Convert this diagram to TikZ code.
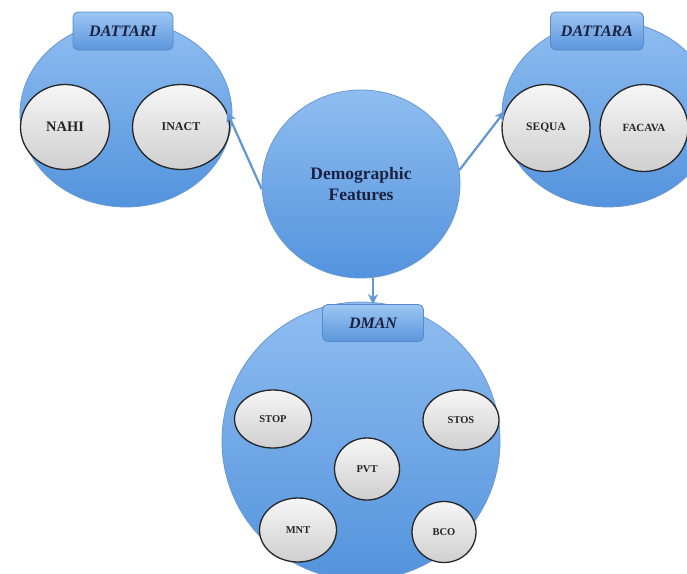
\documentclass[tikz,border=0pt]{standalone}
\usepackage{fontspec}
\setmainfont{Liberation Serif}
\usetikzlibrary{shapes.geometric,arrows.meta}
\definecolor{bigtop}{HTML}{8FBDF0}
\definecolor{bigbot}{HTML}{5393DD}
\definecolor{bigedge}{HTML}{6898D4}
\definecolor{labtop}{HTML}{9CC6F3}
\definecolor{labbot}{HTML}{5B96DC}
\definecolor{labedge}{HTML}{5A8ACB}
\definecolor{navy}{HTML}{1B2140}
\definecolor{arrowc}{HTML}{6396D6}
\definecolor{ovtop}{HTML}{F6F6F6}
\definecolor{ovbot}{HTML}{CFCFCF}
\tikzset{
  bigcirc/.style={ellipse, draw=bigedge, line width=0.8pt, top color=bigtop, bottom color=bigbot, inner sep=0pt},
  labbox/.style={rectangle, rounded corners=5pt, draw=labedge, line width=0.8pt, top color=labtop, bottom color=labbot, inner sep=0pt, minimum height=38pt, text=navy, font=\fontsize{16}{18}\selectfont\bfseries\itshape},
  oval/.style={ellipse, draw=black!85, line width=1.3pt, top color=ovtop, bottom color=ovbot, inner sep=0pt, text=black!85, font=\fontsize{10.5}{12}\selectfont\bfseries},
  conn/.style={draw=arrowc, line width=2.2pt, -{Stealth[length=10pt,width=10pt]}}
}
\begin{document}
\begin{tikzpicture}[x=1pt,y=-1pt]
\useasboundingbox (0,0) rectangle (687,573);
\clip (0,0) rectangle (687,573);
\fill[white] (0,0) rectangle (687,573);
% big circles
\node[bigcirc, minimum width=212pt, minimum height=186pt] (left) at (126,114) {};
\node[bigcirc, minimum width=212pt, minimum height=186pt] (right) at (608,114) {};
\node[bigcirc, minimum width=198pt, minimum height=188pt, text=navy, align=center, font=\fontsize{17.5}{21}\selectfont\bfseries] (cen) at (361,184) {Demographic\\Features};
\node[bigcirc, minimum width=278pt, minimum height=278pt] (bot) at (361,441) {};
% labels
\node[labbox, minimum width=100pt] (dattari) at (123,31) {DATTARI};
\node[labbox, minimum width=93pt] (dattara) at (597,31) {DATTARA};
\node[labbox, minimum width=101pt, minimum height=37pt] (dman) at (373,323) {DMAN};
% inner ovals
\node[oval, minimum width=89pt, minimum height=85pt, font=\fontsize{14.5}{16}\selectfont\bfseries] (nahi) at (65,127) {NAHI};
\node[oval, minimum width=97pt, minimum height=85pt, font=\fontsize{12}{13}\selectfont\bfseries] (inact) at (181,127) {INACT};
\node[oval, minimum width=88pt, minimum height=87pt, font=\fontsize{11.5}{13}\selectfont\bfseries] (sequa) at (546,128) {SEQUA};
\node[oval, minimum width=88pt, minimum height=87pt, font=\fontsize{11}{13}\selectfont\bfseries] (facava) at (644,128) {FACAVA};
\node[oval, minimum width=77pt, minimum height=58pt] (stop) at (273,419) {STOP};
\node[oval, minimum width=76pt, minimum height=60pt] (stos) at (461,420) {STOS};
\node[oval, minimum width=65pt, minimum height=62pt] (pvt) at (367,469) {PVT};
\node[oval, minimum width=77pt, minimum height=64pt] (mnt) at (298,530) {MNT};
\node[oval, minimum width=64pt, minimum height=61pt] (bco) at (444,532) {BCO};
% connectors
\draw[conn] (cen.183) -- (inact.18);
\draw[conn] (cen.8) -- (sequa.158);
\draw[conn] (dman.north |- cen.south) -- (dman.north);
\end{tikzpicture}
\end{document}
